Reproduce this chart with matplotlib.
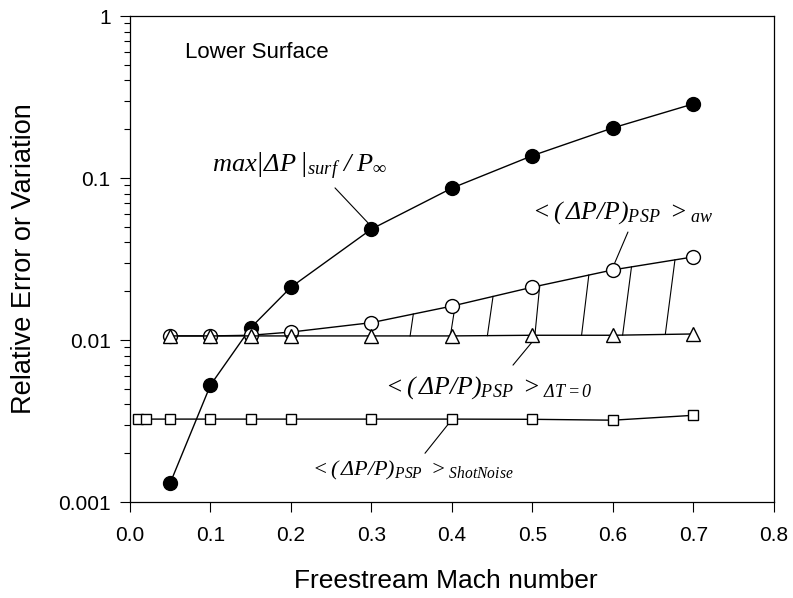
import numpy as np
import matplotlib
matplotlib.use("Agg")
import matplotlib.pyplot as plt
from matplotlib.ticker import FixedLocator, FixedFormatter, LogLocator, NullFormatter

plt.rcParams['font.family'] = ['Liberation Sans', 'DejaVu Sans']
plt.rcParams['mathtext.fontset'] = 'custom'
plt.rcParams['mathtext.rm'] = 'Liberation Serif:italic'
plt.rcParams['mathtext.it'] = 'Liberation Serif:italic'
plt.rcParams['mathtext.bf'] = 'Liberation Serif:italic:bold'

# ---- data ----
mach_max = [0.05, 0.1, 0.15, 0.2, 0.3, 0.4, 0.5, 0.6, 0.7]
max_dp = [0.00131, 0.00527, 0.0119, 0.0212, 0.0484, 0.0867, 0.1375, 0.204, 0.287]

mach_aw = [0.05, 0.1, 0.15, 0.2, 0.3, 0.4, 0.5, 0.6, 0.7]
aw_err = [0.0106, 0.0106, 0.0107, 0.0112, 0.0128, 0.0162, 0.0212, 0.0271, 0.0326]

mach_dt0 = [0.05, 0.1, 0.15, 0.2, 0.3, 0.4, 0.5, 0.6, 0.7]
dt0_err = [0.0106, 0.0106, 0.0106, 0.0106, 0.0106, 0.0106, 0.0107, 0.0107, 0.0109]

mach_shot = [0.01, 0.02, 0.05, 0.1, 0.15, 0.2, 0.3, 0.4, 0.5, 0.6, 0.7]
shot_err = [0.00325, 0.00325, 0.00325, 0.00325, 0.00325, 0.00325, 0.00325, 0.00325,
            0.00324, 0.0032, 0.00343]

hatch_bottom_x = [0.348, 0.398, 0.444, 0.503, 0.561, 0.612, 0.665]
hatch_top_x = [0.352, 0.404, 0.451, 0.509, 0.570, 0.623, 0.677]

xticks = [0.0, 0.1, 0.2, 0.3, 0.4, 0.5, 0.6, 0.7, 0.8]
xticklabels = ['0.0', '0.1', '0.2', '0.3', '0.4', '0.5', '0.6', '0.7', '0.8']
yticks = [0.001, 0.01, 0.1, 1]
yticklabels = ['0.001', '0.01', '0.1', '1']

# ---- figure ----
fig = plt.figure(figsize=(7.93, 5.98), dpi=100)
ax = fig.add_axes([0.1639, 0.1605, 0.976 - 0.1639, 0.9732 - 0.1605])
ax.set_yscale('log')
ax.set_xlim(0, 0.8)
ax.set_ylim(0.001, 1)

lw = 1.0
ax.plot(mach_max, max_dp, '-', color='black', lw=lw, marker='o', ms=10,
        mfc='black', mec='black', zorder=3)
ax.plot(mach_aw, aw_err, '-', color='black', lw=lw, marker='o', ms=10,
        mfc='white', mec='black', mew=1.0, zorder=4)
ax.plot(mach_dt0, dt0_err, '-', color='black', lw=lw, marker='^', ms=10,
        mfc='white', mec='black', mew=1.0, zorder=5)
ax.plot(mach_shot, shot_err, '-', color='black', lw=lw, marker='s', ms=7.5,
        mfc='white', mec='black', mew=1.0, zorder=5)

# hatch lines between the aw curve and the dT=0 curve
def log_interp(x, xs, ys):
    return 10 ** np.interp(x, xs, np.log10(ys))

for xb, xt in zip(hatch_bottom_x, hatch_top_x):
    yb = log_interp(xb, mach_dt0, dt0_err)
    yt = log_interp(xt, mach_aw, aw_err)
    ax.plot([xb, xt], [yb, yt], color='black', lw=0.8, zorder=2)

# ticks
ax.xaxis.set_major_locator(FixedLocator(xticks))
ax.xaxis.set_major_formatter(FixedFormatter(xticklabels))
ax.yaxis.set_major_locator(FixedLocator(yticks))
ax.yaxis.set_major_formatter(FixedFormatter(yticklabels))
ax.yaxis.set_minor_locator(LogLocator(base=10, subs=np.arange(2, 10)))
ax.yaxis.set_minor_formatter(NullFormatter())
ax.tick_params(axis='x', which='major', direction='out', length=7, width=0.8,
               labelsize=15, top=False, pad=10)
ax.tick_params(axis='y', which='major', direction='out', length=7, width=0.8,
               labelsize=15, right=False, pad=7)
ax.tick_params(axis='y', which='minor', direction='out', length=4, width=0.8,
               right=False)
ax.tick_params(axis='x', which='minor', bottom=False, top=False)
for s in ax.spines.values():
    s.set_linewidth(0.9)

ax.set_xlabel('Freestream Mach number', fontsize=19)
ax.set_ylabel('Relative Error or Variation', fontsize=19.5)
ax.xaxis.set_label_coords(0.49, -0.1626)
ax.xaxis.label.set_va('center')
ax.yaxis.set_label_coords(-0.164, 0.5)
ax.yaxis.label.set_va('center')

# annotations
ax.text(0.0683, 0.596, 'Lower Surface', fontsize=16, ha='left', va='center')

line_kw = dict(arrowstyle='-', color='black', lw=0.8, shrinkA=0, shrinkB=0)

ax.text(0.211, 0.1175, r'$max\left|\Delta P^{\,}_{\,}\right|_{surf}\ /\ P_{\infty}$',
        fontsize=19, ha='center', va='center')
ax.annotate('', xy=(0.298, 0.0514), xytext=(0.2547, 0.0869), arrowprops=line_kw)

ax.text(0.61, 0.0609, r'$<(\,\Delta P/P)_{PSP}\ >_{aw}$',
        fontsize=18.5, ha='center', va='center')
ax.annotate('', xy=(0.60, 0.0282), xytext=(0.6186, 0.0464), arrowprops=line_kw)

ax.text(0.4435, 0.00512, r'$<(\,\Delta P/P)_{PSP}\ >_{\Delta T=0}$',
        fontsize=18.5, ha='center', va='center')
ax.annotate('', xy=(0.505, 0.01048), xytext=(0.4758, 0.0070), arrowprops=line_kw)

ax.text(0.350, 0.00157, r'$<(\,\Delta P/P)_{PSP}\ >_{ShotNoise}$',
        fontsize=16, ha='center', va='center')
ax.annotate('', xy=(0.3975, 0.00312), xytext=(0.3665, 0.0020), arrowprops=line_kw)

fig.savefig('out.png', dpi=100, facecolor='white')
